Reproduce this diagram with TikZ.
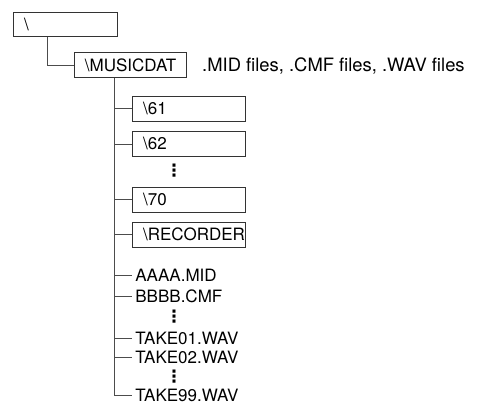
\documentclass[tikz,border=0pt]{standalone}
\usepackage{fontspec}
\setmainfont{TeX Gyre Heros}
\newfontfamily\symfont{DejaVu Sans}
\usetikzlibrary{positioning}

\begin{document}
\begin{tikzpicture}[x=1pt, y=-1pt, font=\fontsize{17}{20}\selectfont,
  line/.style={draw=black!70, line width=0.9pt},
  folder/.style={draw=black!80, line width=0.9pt, anchor=north west, minimum height=25pt,
    inner xsep=11pt, text width=#1, align=left},
  file/.style={anchor=west, inner xsep=3.5pt, inner ysep=0pt},
  more/.style={inner sep=0pt, font=\symfont\bfseries\fontsize{17}{17}\selectfont}]
\useasboundingbox (0,0) rectangle (477,404);
% folders
\node[folder=82pt, minimum height=24pt] (root) at (12.7,12) {\textbackslash};
\node[folder=90pt, minimum height=24.5pt] (musicdat) at (73.5,52.5) {\textbackslash MUSICDAT};
\node[anchor=base west, inner sep=0pt, font=\fontsize{18.4}{21}\selectfont] (types) at (202,71.5)
  {.MID files, .CMF files, .WAV files};
\node[folder=91pt] (d61) at (131.7,96) {\textbackslash 61};
\node[folder=91pt] (d62) at (131.7,131) {\textbackslash 62};
\node[more] (dots1) at (174,171) {⋮};
\node[folder=91pt] (d70) at (131.7,186.7) {\textbackslash 70};
\node[folder=91pt] (recorder) at (131.7,221.7) {\textbackslash RECORDER};
% files
\node[file] (aaaa) at (131.7,275) {AAAA.MID};
\node[file] (bbbb) at (131.7,296.7) {BBBB.CMF};
\node[more] (dots2) at (174,316.7) {⋮};
\node[file] (take01) at (131.7,338) {TAKE01.WAV};
\node[file] (take02) at (131.7,357) {TAKE02.WAV};
\node[more] (dots3) at (174,377) {⋮};
\node[file] (take99) at (131.7,395) {TAKE99.WAV};
% tree lines
\draw[line] ([xshift=34.5pt]root.south west) |- (musicdat.west);
\coordinate (trunk) at ([xshift=40.8pt]musicdat.south west);
\draw[line] (trunk) |- (take99.west);
\foreach \n in {d61,d62,d70,recorder,aaaa,bbbb,take01,take02}
  \draw[line] (trunk |- \n.west) -- (\n.west);
\end{tikzpicture}
\end{document}
